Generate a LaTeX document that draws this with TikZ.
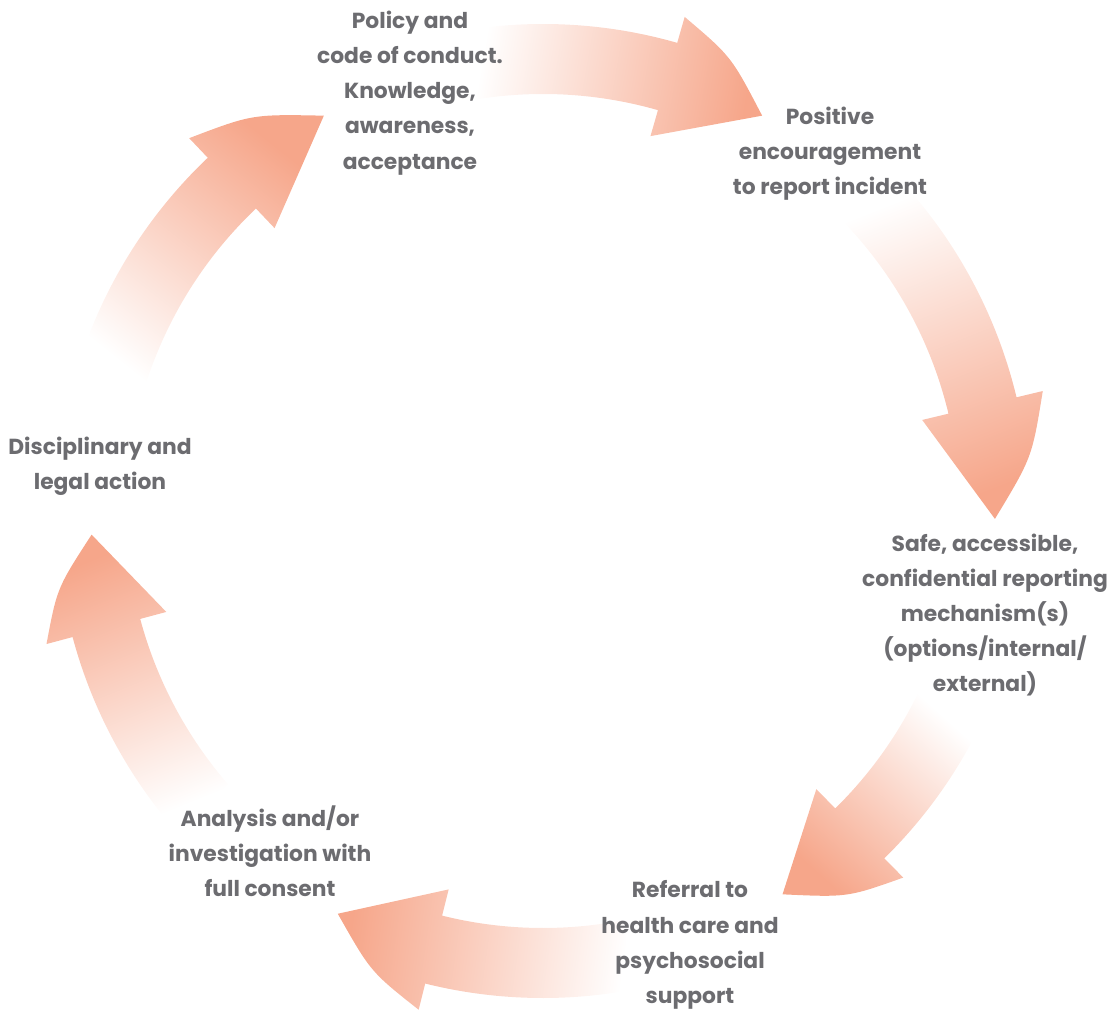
\documentclass[tikz,border=0pt]{standalone}
\usepackage{fontspec}
\setmainfont{Poppins}
\definecolor{arrowpink}{RGB}{246,166,138}
\definecolor{labelgray}{RGB}{108,108,112}
\tikzset{
  cyclelabel/.style={text=labelgray, font=\bfseries\fontsize{15.5}{25}\selectfont, align=center, inner sep=0pt},
  arrowshade/.style={bottom color=white, top color=arrowpink}
}
\begin{document}
\begin{tikzpicture}[x=0.025cm, y=0.025cm]
    \useasboundingbox (-543,-501) rectangle (568,511);

    % Draw curved arrows: tail / head base / tip angles
    \foreach \tail/\base/\tip in {99/74/61, 44/13.5/-1, -26/-45.5/-58, -79/-104/-117, -139/-165/-177, 164/133.5/119}{
        \pgfmathsetmacro\headmid{(\base+\tip)/2}
        \pgfmathsetmacro\shadeang{(\tail+\tip)/2-180}
        \shade[arrowshade, shading angle=\shadeang]
            (\tail:487) arc[start angle=\tail, end angle=\base, radius=487]
            -- (\base:514) .. controls (\headmid:492) .. (\tip:452)
            -- (\base:390) -- (\base:417)
            arc[start angle=\base, end angle=\tail, radius=417] -- cycle;
    }

    % Add labels
    \node[cyclelabel] (policy) at (-133,418) {Policy and\\code of conduct.\\Knowledge,\\awareness,\\acceptance};
    \node[cyclelabel] (positive) at (287,357) {Positive\\encouragement\\to report incident};
    \node[cyclelabel] (safe) at (442,-104) {Safe, accessible,\\confidential reporting\\mechanism(s)\\(options/internal/\\external)};
    \node[cyclelabel] (referral) at (147,-434) {Referral to\\health care and\\psychosocial\\support};
    \node[cyclelabel] (analysis) at (-273,-340) {Analysis and/or\\investigation with\\full consent};
    \node[cyclelabel] (disciplinary) at (-443,45) {Disciplinary and\\legal action};
\end{tikzpicture}
\end{document}
